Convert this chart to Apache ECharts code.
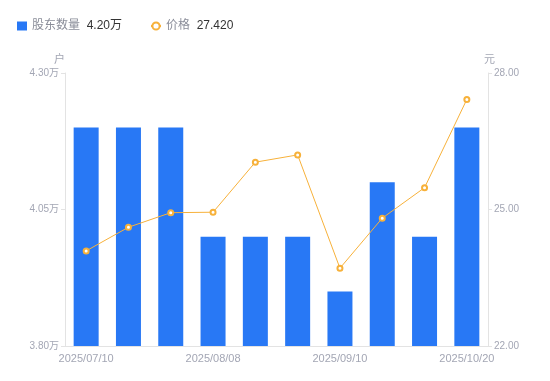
<!DOCTYPE html>
<html><head><meta charset="utf-8">
<script src="https://cdn.jsdelivr.net/npm/echarts@6/dist/echarts.min.js"></script>
<style>html,body{margin:0;padding:0;background:#fff}#c{width:550px;height:381px}</style>
</head><body><div id="c"></div>
<script>
const categories = ['2025/07/10','2025/07/21','2025/07/31','2025/08/08','2025/08/20','2025/08/29','2025/09/10','2025/09/19','2025/09/30','2025/10/20'];
const holders = [4.20,4.20,4.20,4.00,4.00,4.00,3.90,4.10,4.00,4.20];
const prices = [24.09,24.61,24.93,24.94,26.04,26.20,23.71,24.81,25.48,27.42];
const leftTicks = {min:3.80,max:4.30,interval:0.25};
const rightTicks = {min:22,max:28,interval:3};
const FONT = '"Liberation Sans","Noto Sans CJK SC",sans-serif';
const chart = echarts.init(document.getElementById('c'));
const lastH = holders[holders.length-1], lastP = prices[prices.length-1];
chart.setOption({
  animation:false,
  textStyle:{fontFamily:FONT},
  legend:{
    left:12, top:15, itemGap:28, itemWidth:10, itemHeight:9,
    data:[{name:'股东数量',icon:'rect'},{name:'价格'}],
    formatter:function(n){return n==='股东数量' ? '{a|'+n+'}  {b|'+lastH.toFixed(2)+'万}' : '{a|'+n+'}  {b|'+lastP.toFixed(3)+'}';},
    textStyle:{fontFamily:FONT,rich:{a:{color:'#8a8d99',fontSize:12,fontFamily:FONT},b:{color:'#333',fontSize:12,fontFamily:FONT}}}
  },
  grid:{left:65,right:62,top:73,bottom:35},
  xAxis:{type:'category',data:categories,
    axisLine:{lineStyle:{color:'#e3e3e3'}},axisTick:{show:false},
    axisLabel:{color:'#a3a6b4',fontSize:11,interval:2,margin:7,fontFamily:FONT}},
  yAxis:[
    {type:'value',name:'户',min:leftTicks.min,max:leftTicks.max,interval:leftTicks.interval,
     nameTextStyle:{color:'#a3a6b4',fontSize:11,align:'right',padding:[0,0,0,0]},nameGap:8,
     axisLine:{show:true,lineStyle:{color:'#e3e3e3'}},axisTick:{show:true,length:4,lineStyle:{color:'#e3e3e3'}},
     splitLine:{show:false},
     axisLabel:{color:'#a3a6b4',fontSize:10,margin:6,formatter:v=>v.toFixed(2)+'万',fontFamily:FONT}},
    {type:'value',name:'元',min:rightTicks.min,max:rightTicks.max,interval:rightTicks.interval,
     nameTextStyle:{color:'#a3a6b4',fontSize:11,align:'left',padding:[0,0,0,-4]},nameGap:8,
     axisLine:{show:true,lineStyle:{color:'#e3e3e3'}},axisTick:{show:true,length:4,lineStyle:{color:'#e3e3e3'}},
     splitLine:{show:false},
     axisLabel:{color:'#a3a6b4',fontSize:10,margin:6,formatter:v=>v.toFixed(2),fontFamily:FONT}}
  ],
  series:[
    {name:'股东数量',type:'bar',yAxisIndex:0,data:holders,barWidth:25,
     itemStyle:{color:'#2878f5'}},
    {name:'价格',type:'line',yAxisIndex:1,data:prices,symbol:'emptyCircle',symbolSize:5,
     lineStyle:{color:'#f7b13a',width:1},itemStyle:{color:'#f7b13a',borderWidth:2}}
  ]
});
</script></body></html>
